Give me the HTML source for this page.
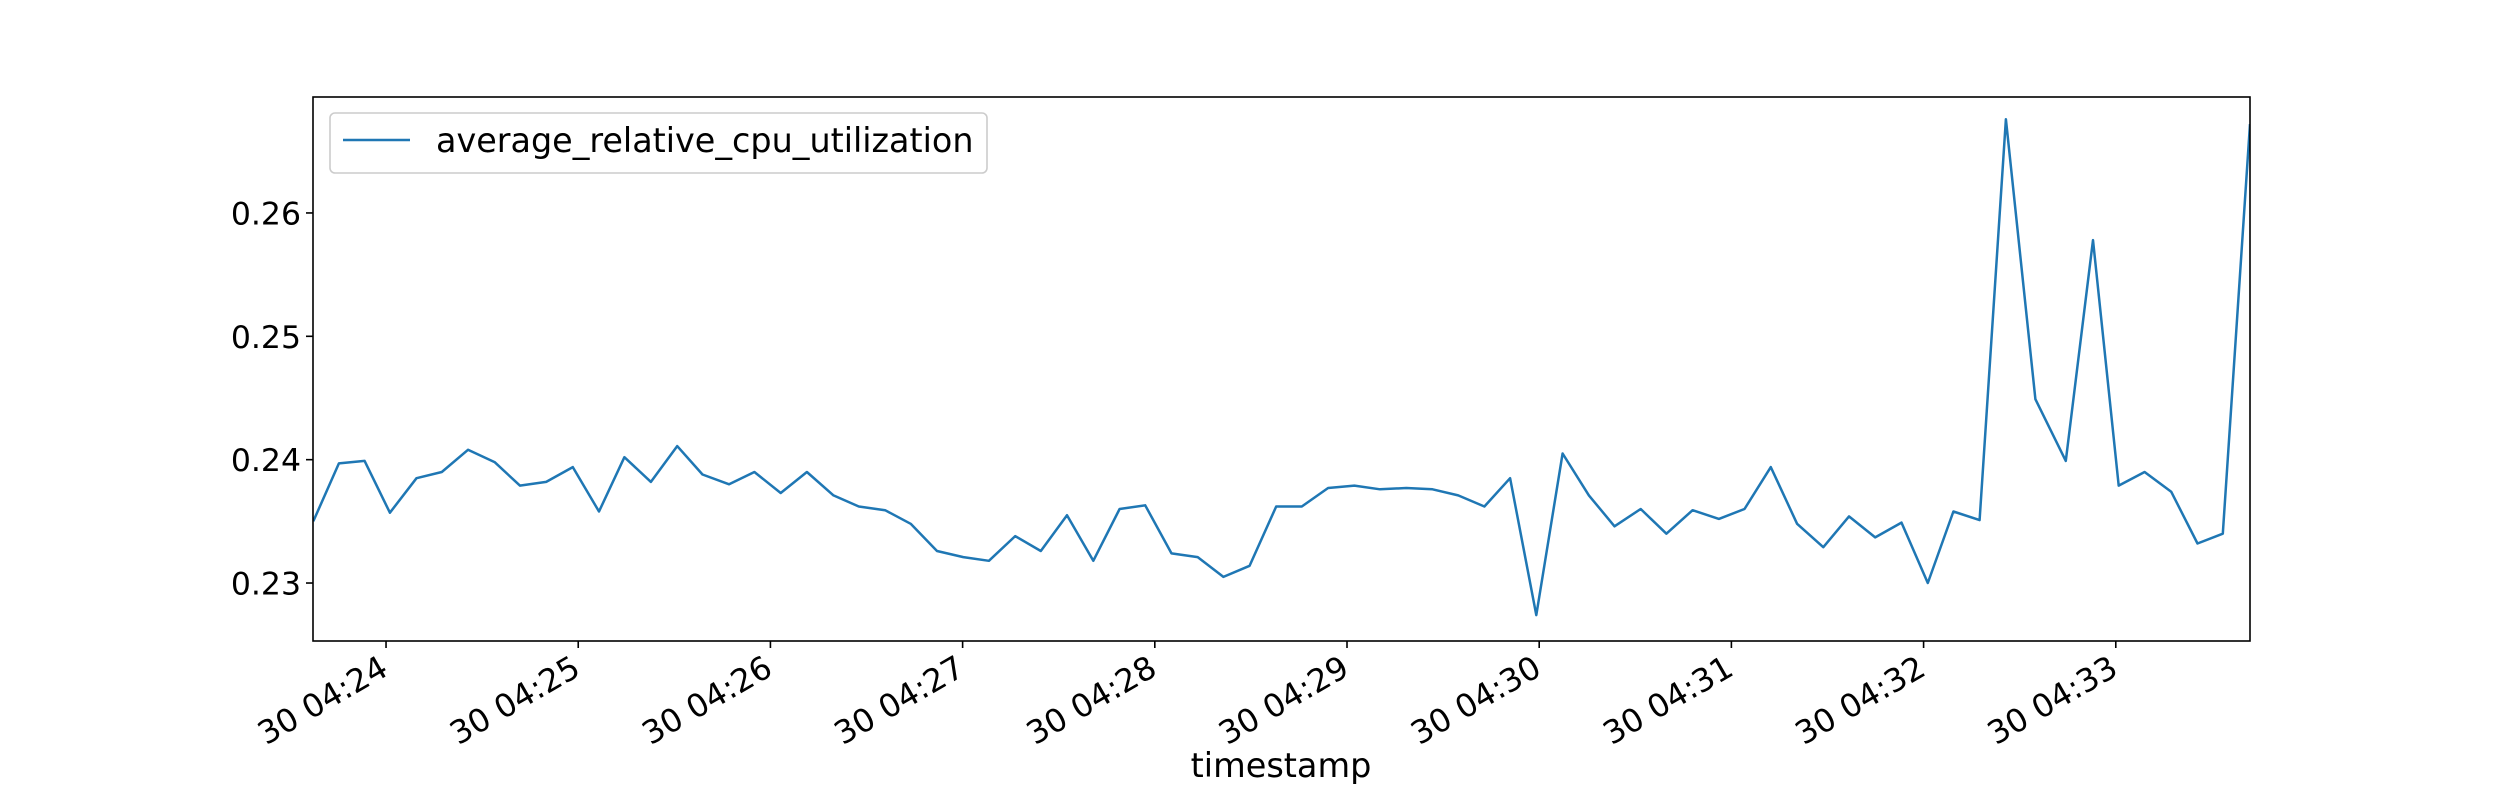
<!DOCTYPE html>
<html><head><meta charset="utf-8"><style>
html,body{margin:0;padding:0;background:#fff;}
svg{display:block;font-family:"DejaVu Sans","Liberation Sans",sans-serif;}
</style></head><body>
<svg id="chart" width="2500" height="800" viewBox="0 0 2500 800" xmlns="http://www.w3.org/2000/svg">
<rect x="0" y="0" width="2500" height="800" fill="#fff"/>
<g id="plot"></g>
</svg>
<script>
// seconds after 30 04:24:00
const times = [-22.7,-14.7,-6.7,1.2,9.5,17.4,25.6,33.9,41.8,50.0,58.3,66.5,74.4,82.7,90.9,98.8,107.1,115.0,123.2,131.4,139.7,147.6,155.8,163.8,172.0,180.2,188.2,196.4,204.4,212.6,220.8,229.0,237.0,245.2,253.4,261.4,269.6,277.9,285.9,294.1,302.3,310.3,318.5,326.7,334.7,342.9,350.9,359.1,367.3,375.5,383.5,391.7,399.7,407.9,416.1,424.1,432.3,440.5,448.7,456.7,464.9,473.1,481.3,489.3,497.5,505.7,514.9,524.4,532.9,540.9,549.0,557.3,565.5,573.4,581.9];
const values = [0.2350,0.2397,0.2399,0.2357,0.2385,0.2390,0.2408,0.2398,0.2379,0.2382,0.2394,0.2358,0.2402,0.2382,0.2411,0.2388,0.2380,0.2390,0.2373,0.2390,0.2371,0.2362,0.2359,0.2348,0.2326,0.2321,0.2318,0.2338,0.2326,0.2355,0.2318,0.2360,0.2363,0.2324,0.2321,0.2305,0.2314,0.2362,0.2362,0.2377,0.2379,0.2376,0.2377,0.2376,0.2371,0.2362,0.2385,0.2274,0.2405,0.2371,0.2346,0.2360,0.2340,0.2359,0.2352,0.2360,0.2394,0.2348,0.2329,0.2354,0.2337,0.2349,0.2300,0.2358,0.2351,0.2676,0.2449,0.2399,0.2578,0.2379,0.2390,0.2374,0.2332,0.2340,0.2672];
const yTicks = [0.23,0.24,0.25,0.26];
const yTickLabels = ["0.23","0.24","0.25","0.26"];
const xTicks = [0,60,120,180,240,300,360,420,480,540];
const xTickLabels = ["30 04:24","30 04:25","30 04:26","30 04:27","30 04:28","30 04:29","30 04:30","30 04:31","30 04:32","30 04:33"];
const seriesName = "average_relative_cpu_utilization";

const L=313,R=2250,T=97,B=641;
const xMin=-22.8,xMax=581.9,yMin=0.2253,yMax=0.2694;
const xs=t=>L+(t-xMin)/(xMax-xMin)*(R-L);
const ys=v=>B-(v-yMin)/(yMax-yMin)*(B-T);
const NS="http://www.w3.org/2000/svg";
const g=document.getElementById('plot');
function mk(tag,attrs,parent){const e=document.createElementNS(NS,tag);for(const k in attrs)e.setAttribute(k,attrs[k]);(parent||g).appendChild(e);return e;}

const defs=mk('defs',{});
const cp=mk('clipPath',{id:'clip'},defs);
mk('rect',{x:L,y:T,width:R-L,height:B-T},cp);

let d='';
times.forEach((t,i)=>{d+=(i?'L':'M')+xs(t).toFixed(1)+','+ys(values[i]).toFixed(1);});
const line=mk('path',{d:d,fill:'none',stroke:'#1f77b4','stroke-width':2.5,'stroke-linejoin':'round','clip-path':'url(#clip)'});



const frame=mk('rect',{x:L,y:T,width:R-L,height:B-T,fill:'none',stroke:'#000','stroke-width':1.6});



yTicks.forEach((v,i)=>{
  const y=ys(v);
  const tk=mk('line',{x1:L-7,x2:L,y1:y,y2:y,stroke:'#000','stroke-width':1.6});
  
  
  const tx=mk('text',{x:L-12,y:y+11.5,'text-anchor':'end','font-size':31.5,fill:'#000'});
  tx.textContent=yTickLabels[i];
  
  
});
xTicks.forEach((t,i)=>{
  const x=xs(t);
  const tk=mk('line',{x1:x,x2:x,y1:B,y2:B+7,stroke:'#000','stroke-width':1.6});
  
  
  const tx=mk('text',{x:0,y:0,'text-anchor':'end','font-size':32,fill:'#000',transform:`translate(${x+4},${B+33}) rotate(-30)`});
  tx.textContent=xTickLabels[i];
  
  
});
const xl=mk('text',{x:1281,y:777,'text-anchor':'middle','font-size':33.5,fill:'#000'});
xl.textContent='timestamp';



const lg=mk('g',{});


mk('rect',{x:330,y:113,width:657,height:60,rx:5,fill:'#fff',stroke:'#ccc','stroke-width':1.6},lg);
const ll=mk('line',{x1:343,x2:410,y1:140,y2:140,stroke:'#1f77b4','stroke-width':2.5},lg);


const lt=mk('text',{x:436,y:152,'font-size':33.4,fill:'#000'},lg);
lt.textContent=seriesName;


</script>
</body></html>
